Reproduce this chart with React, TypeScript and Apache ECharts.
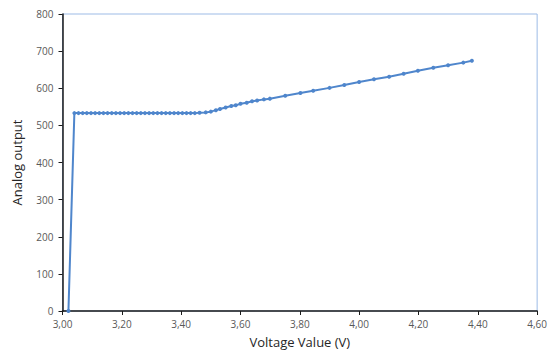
import React, { useEffect, useRef } from "react";
import * as echarts from "echarts";

// Measured sensor response: supply voltage (V) against analog reading
const voltage = [
  3.02, 3.04, 3.054, 3.068, 3.082, 3.096, 3.11, 3.124, 3.138, 3.152, 3.166,
  3.18, 3.194, 3.208, 3.222, 3.236, 3.25, 3.264, 3.278, 3.292, 3.306, 3.32,
  3.334, 3.348, 3.362, 3.376, 3.39, 3.404, 3.418, 3.432, 3.446, 3.462, 3.483,
  3.5, 3.517, 3.531, 3.55, 3.569, 3.584, 3.6, 3.621, 3.639, 3.656, 3.679,
  3.699, 3.751, 3.802, 3.845, 3.9, 3.95, 4.0, 4.05, 4.101, 4.15, 4.198, 4.25,
  4.3, 4.351, 4.38,
];
const analogOutput = [
  0, 533, 533, 533, 533, 533, 533, 533, 533, 533, 533, 533, 533, 533, 533,
  533, 533, 533, 533, 533, 533, 533, 533, 533, 533, 533, 533, 533, 533, 533,
  533, 534, 535, 537, 541, 544, 548, 552, 554, 558, 561, 565, 567, 570, 572,
  580, 587, 593, 601, 609, 617, 624, 631, 639, 647, 655, 662, 669, 674,
];

const xMin = 3.0;
const xMax = 4.6;
const xStep = 0.2;
const yMin = 0;
const yMax = 800;
const yStep = 100;

const xTitle = "Voltage Value (V)";
const yTitle = "Analog output";

const labelFont = "'Open Sans', 'Liberation Sans', sans-serif";

export default function App() {
  const ref = useRef<HTMLDivElement>(null);

  useEffect(() => {
    if (!ref.current) return;
    const chart = echarts.init(ref.current, undefined, { renderer: "svg" });
    const points = voltage.map((v, i) => [v, analogOutput[i]]);

    chart.setOption({
      animation: false,
      backgroundColor: "#ffffff",
      grid: {
        left: 62.5,
        right: 10,
        top: 14,
        bottom: 38,
        show: true,
        borderColor: "#9dbbe6",
        borderWidth: 1,
      },
      xAxis: {
        type: "value",
        min: xMin,
        max: xMax,
        interval: xStep,
        name: xTitle,
        nameLocation: "middle",
        nameGap: 24,
        nameTextStyle: { fontFamily: labelFont, fontSize: 13, color: "#262626" },
        splitLine: { show: false },
        axisLine: { show: true, lineStyle: { color: "#1a1a1a", width: 1.5 } },
        axisTick: { show: true, length: 4, lineStyle: { color: "#1a1a1a" } },
        axisLabel: {
          margin: 8,
          fontFamily: labelFont,
          fontSize: 10,
          color: "#595959",
          formatter: (v: number) => v.toFixed(2).replace(".", ","),
        },
      },
      yAxis: {
        type: "value",
        min: yMin,
        max: yMax,
        interval: yStep,
        name: yTitle,
        nameLocation: "middle",
        nameGap: 39,
        nameTextStyle: { fontFamily: labelFont, fontSize: 13, color: "#262626" },
        splitLine: { show: false },
        axisLine: { show: true, lineStyle: { color: "#1a1a1a", width: 1.5 } },
        axisTick: { show: true, length: 4, lineStyle: { color: "#1a1a1a" } },
        axisLabel: {
          margin: 9,
          fontFamily: labelFont,
          fontSize: 10,
          color: "#595959",
        },
      },
      series: [
        {
          type: "line",
          data: points,
          z: 5,
          symbol: "circle",
          symbolSize: 4,
          showSymbol: true,
          lineStyle: { color: "#4f86cc", width: 2 },
          itemStyle: { color: "#4f86cc", borderWidth: 0 },
        },
      ],
    });

    return () => chart.dispose();
  }, []);

  return (
    <div
      ref={ref}
      style={{ position: "fixed", left: 0, top: 0, width: 550, height: 353 }}
    />
  );
}
